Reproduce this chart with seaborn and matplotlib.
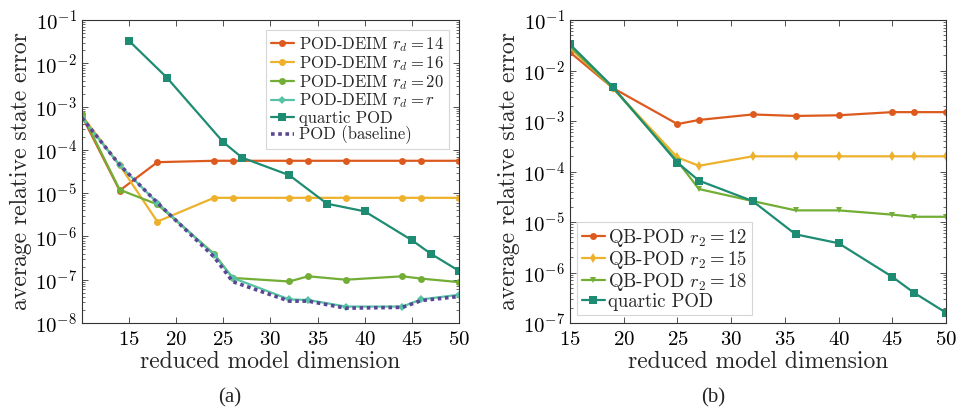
import os
import numpy as np
import pandas as pd
import matplotlib
matplotlib.use("Agg")
import matplotlib.pyplot as plt
from matplotlib import font_manager
from matplotlib.ticker import LogLocator, NullFormatter
import seaborn as sns

# ---- data ----
dims_deim = [10, 14, 18, 24, 26, 32, 34, 38, 44, 46, 50]
deim_rd14 = [6.0e-4, 1.15e-5, 5.2e-5, 5.6e-5, 5.6e-5, 5.6e-5, 5.6e-5, 5.6e-5, 5.6e-5, 5.6e-5, 5.6e-5]
deim_rd16 = [6.2e-4, 4.4e-5, 2.2e-6, 7.8e-6, 7.8e-6, 7.8e-6, 7.8e-6, 7.8e-6, 7.8e-6, 7.8e-6, 7.8e-6]
deim_rd20 = [6.8e-4, 1.2e-5, 5.5e-6, 4.0e-7, 1.1e-7, 9.1e-8, 1.2e-7, 1.0e-7, 1.2e-7, 1.06e-7, 8.8e-8]
deim_rdr = [5.5e-4, 4.4e-5, 6.0e-6, 3.8e-7, 1.1e-7, 3.5e-8, 3.4e-8, 2.4e-8, 2.4e-8, 3.5e-8, 4.5e-8]
pod_base = [5.5e-4, 4.5e-5, 6.0e-6, 3.4e-7, 9.0e-8, 3.2e-8, 3.2e-8, 2.2e-8, 2.3e-8, 3.3e-8, 4.1e-8]

dims_quartic = [15, 19, 25, 27, 32, 36, 40, 45, 47, 50]
quartic_pod = [3.3e-2, 4.7e-3, 1.5e-4, 6.6e-5, 2.6e-5, 5.7e-6, 3.8e-6, 8.2e-7, 4.0e-7, 1.6e-7]

dims_qb = [15, 19, 25, 27, 32, 36, 40, 45, 47, 50]
qb_r12 = [2.3e-2, 4.5e-3, 8.7e-4, 1.05e-3, 1.35e-3, 1.26e-3, 1.3e-3, 1.5e-3, 1.5e-3, 1.5e-3]
qb_r15 = [2.8e-2, 4.5e-3, 1.9e-4, 1.3e-4, 2.0e-4, 2.0e-4, 2.0e-4, 2.0e-4, 2.0e-4, 2.0e-4]
qb_r18 = [3.0e-2, 4.5e-3, 1.6e-4, 4.5e-5, 2.6e-5, 1.7e-5, 1.7e-5, 1.4e-5, 1.27e-5, 1.27e-5]

C_ORANGE = "#DD5A1E"
C_YELLOW = "#EDB12C"
C_GREEN = "#72AE35"
C_LTEAL = "#56C3A4"
C_TEAL = "#1E8C72"
C_PURPLE = "#5A4696"

# Computer Modern look, using the cmr10 that ships with matplotlib
cm_path = os.path.join(matplotlib.get_data_path(), "fonts", "ttf", "cmr10.ttf")
font_manager.fontManager.addfont(cm_path)
cm_name = font_manager.FontProperties(fname=cm_path).get_name()

sns.set_theme(style="ticks")
plt.rcParams["font.family"] = [cm_name, "DejaVu Serif"]
plt.rcParams["mathtext.fontset"] = "cm"
plt.rcParams["axes.unicode_minus"] = False
plt.rcParams["axes.formatter.use_mathtext"] = True


def style_axis(ax, xlim, ylim, xticks):
    ax.set_yscale("log")
    ax.set_xlim(*xlim)
    ax.set_ylim(*ylim)
    ax.set_xticks(xticks)
    ax.yaxis.set_major_locator(LogLocator(base=10, numticks=20))
    ax.yaxis.set_minor_locator(LogLocator(base=10, subs=np.arange(2, 10), numticks=20))
    ax.yaxis.set_minor_formatter(NullFormatter())
    ax.tick_params(which="both", direction="in", top=True, right=True,
                   labelsize=15, colors="#333333", labelcolor="black")
    ax.tick_params(which="major", length=4, width=0.6)
    ax.tick_params(which="minor", length=2, width=0.5)
    ax.tick_params(axis="x", pad=6)
    for sp in ax.spines.values():
        sp.set_linewidth(0.8)
        sp.set_color("#333333")
    ax.set_xlabel("reduced model dimension", fontsize=17, labelpad=1)
    ax.set_ylabel("average relative state error", fontsize=17, labelpad=2)


fig = plt.figure(figsize=(9.62, 4.15), dpi=100)
ax1 = fig.add_axes([0.0852, 0.2217, 0.3919, 0.730])
ax2 = fig.add_axes([0.5925, 0.2217, 0.3909, 0.730])

lw = 1.6
# (a) POD-DEIM comparison
sns.lineplot(x=dims_deim, y=deim_rd14, ax=ax1, color=C_ORANGE, marker="o", markersize=5,
             markeredgewidth=0, lw=lw, label=r"POD-DEIM $r_d = 14$")
sns.lineplot(x=dims_deim, y=deim_rd16, ax=ax1, color=C_YELLOW, marker="o", markersize=5,
             markeredgewidth=0, lw=lw, label=r"POD-DEIM $r_d = 16$")
sns.lineplot(x=dims_deim, y=deim_rd20, ax=ax1, color=C_GREEN, marker="o", markersize=5,
             markeredgewidth=0, lw=lw, label=r"POD-DEIM $r_d = 20$")
sns.lineplot(x=dims_deim, y=deim_rdr, ax=ax1, color=C_LTEAL, marker="D", markersize=4.5,
             markeredgewidth=0, lw=lw, label=r"POD-DEIM $r_d = r$")
sns.lineplot(x=dims_quartic, y=quartic_pod, ax=ax1, color=C_TEAL, marker="s", markersize=5.5,
             markeredgewidth=0, lw=lw, label="quartic POD")
sns.lineplot(x=dims_deim, y=pod_base, ax=ax1, color=C_PURPLE, lw=2.6,
             label="POD (baseline)")
ax1.lines[-1].set_linestyle((0, (1, 1)))
style_axis(ax1, (10, 50), (1e-8, 1e-1), [15, 20, 25, 30, 35, 40, 45, 50])
leg1 = ax1.legend(loc="upper right", fontsize=12, frameon=True, fancybox=False,
                  labelspacing=0.0, handlelength=1.4, handletextpad=0.3,
                  borderpad=0.3, borderaxespad=0.6)
leg1.get_frame().set_edgecolor("#cccccc")
leg1.get_frame().set_linewidth(0.8)
leg1.get_lines()[-1].set_linestyle((0, (1, 1)))

# (b) QB-POD comparison
sns.lineplot(x=dims_qb, y=qb_r12, ax=ax2, color=C_ORANGE, marker="o", markersize=5,
             markeredgewidth=0, lw=lw, label=r"QB-POD $r_2 = 12$")
sns.lineplot(x=dims_qb, y=qb_r15, ax=ax2, color=C_YELLOW, marker="d", markersize=5,
             markeredgewidth=0, lw=lw, label=r"QB-POD $r_2 = 15$")
sns.lineplot(x=dims_qb, y=qb_r18, ax=ax2, color=C_GREEN, marker="v", markersize=4.5,
             markeredgewidth=0, lw=lw, label=r"QB-POD $r_2 = 18$")
sns.lineplot(x=dims_quartic, y=quartic_pod, ax=ax2, color=C_TEAL, marker="s", markersize=5.5,
             markeredgewidth=0, lw=lw, label="quartic POD")
style_axis(ax2, (15, 50), (1e-7, 1e-1), [15, 20, 25, 30, 35, 40, 45, 50])
leg2 = ax2.legend(loc="lower left", fontsize=13.5, frameon=True, fancybox=False,
                  labelspacing=0.0, handlelength=1.2, handletextpad=0.2,
                  borderpad=0.25, borderaxespad=0.4)
leg2.get_frame().set_edgecolor("#cccccc")
leg2.get_frame().set_linewidth(0.8)

fig.text(0.239, 0.03, "(a)", fontsize=15, family="Liberation Serif", ha="center")
fig.text(0.741, 0.03, "(b)", fontsize=15, family="Liberation Serif", ha="center")

fig.savefig("out.png", dpi=100)
